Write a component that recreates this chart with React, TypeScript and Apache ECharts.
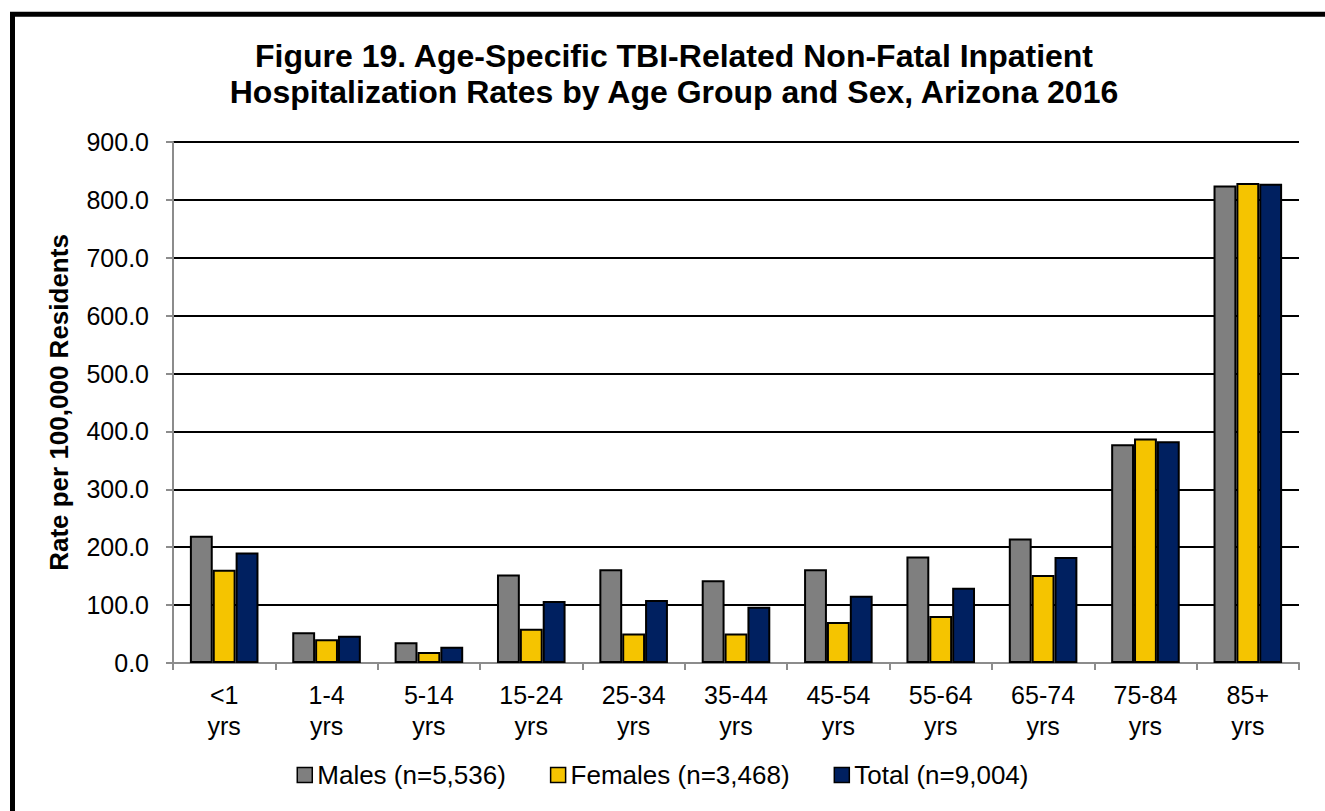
import React, { useEffect, useRef } from "react";
import * as echarts from "echarts";

const categories = ["<1\nyrs", "1-4\nyrs", "5-14\nyrs", "15-24\nyrs", "25-34\nyrs", "35-44\nyrs", "45-54\nyrs", "55-64\nyrs", "65-74\nyrs", "75-84\nyrs", "85+\nyrs"];
const males = [220, 53, 36, 153, 162, 143, 162, 184, 215, 378, 825];
const females = [161, 41, 19, 59, 51, 51, 71, 81, 152, 388, 829];
const total = [191, 47, 28, 107, 109, 97, 116, 130, 183, 383, 828];
const seriesNames = ["Males (n=5,536)", "Females (n=3,468)", "Total (n=9,004)"];
const colors = ["#7F7F7F", "#F5C400", "#002060"];
const titleText = "Figure 19. Age-Specific TBI-Related Non-Fatal Inpatient\nHospitalization Rates by Age Group and Sex, Arizona 2016";
const yAxisName = "Rate per 100,000 Residents";

export default function App() {
  const ref = useRef<HTMLDivElement>(null);
  useEffect(() => {
    document.body.style.margin = "0";
    const chart = echarts.init(ref.current!, undefined, { renderer: "svg" });
    const font = "Liberation Sans, Arial, sans-serif";
    const data = [males, females, total];
    chart.setOption({
      animation: false,
      textStyle: { fontFamily: font, color: "#000" },
      title: {
        text: titleText,
        left: 669,
        textAlign: "center",
        top: 33,
        textStyle: { fontFamily: font, fontSize: 32, fontWeight: "bold", color: "#000", lineHeight: 36 },
      },
      graphic: [
        {
          type: "rect",
          shape: { x: 12.5, y: 14.2, width: 1500, height: 1000 },
          style: { fill: "none", stroke: "#000", lineWidth: 5 },
          silent: true,
        },
      ],
      legend: {
        bottom: 18,
        left: "center",
        itemWidth: 15,
        itemHeight: 15,
        itemGap: 44,
        icon: "rect",
        textStyle: { fontFamily: font, fontSize: 26, color: "#000" },
        data: seriesNames.map((n, i) => ({
          name: n,
          itemStyle: { color: colors[i], borderColor: "#000", borderWidth: 1.5 },
        })),
      },
      grid: { left: 173, right: 26, top: 142, bottom: 148, containLabel: false },
      xAxis: {
        type: "category",
        data: categories,
        axisLine: { show: true, lineStyle: { color: "#8C8C8C", width: 2 } },
        axisTick: { show: true, length: 7, alignWithLabel: false, lineStyle: { color: "#8C8C8C", width: 2 } },
        axisLabel: { fontFamily: font, fontSize: 25, color: "#000", lineHeight: 31, margin: 16, interval: 0 },
      },
      yAxis: {
        type: "value",
        min: 0,
        max: 900,
        interval: 100,
        name: yAxisName,
        nameLocation: "middle",
        nameGap: 101,
        nameTextStyle: { fontFamily: font, fontSize: 26, fontWeight: "bold", color: "#000" },
        axisLine: { show: true, lineStyle: { color: "#8C8C8C", width: 2 } },
        axisTick: { show: true, length: 7, lineStyle: { color: "#8C8C8C", width: 2 } },
        axisLabel: {
          fontFamily: font,
          fontSize: 25,
          color: "#000",
          margin: 24,
          formatter: (v: number) => v.toFixed(1),
        },
        splitLine: { show: true, lineStyle: { color: "#000", width: 2 } },
      },
      series: seriesNames.map((n, i) => ({
        name: n,
        type: "bar",
        data: data[i],
        barGap: "0%",
        barCategoryGap: "33%",
        itemStyle: { color: colors[i], borderColor: "#000", borderWidth: 2 },
      })),
    });
    return () => chart.dispose();
  }, []);
  return <div ref={ref} style={{ width: 1325, height: 811 }} />;
}
